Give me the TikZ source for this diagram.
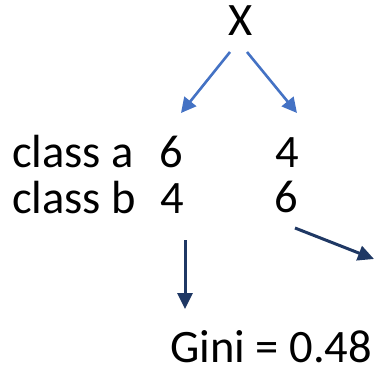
\documentclass[tikz,border=0pt]{standalone}
\usepackage{fontspec}
\setmainfont{Carlito}
\usetikzlibrary{arrows.meta}
\definecolor{blueA}{RGB}{68,114,196}
\definecolor{navyA}{RGB}{31,56,100}
\begin{document}
\begin{tikzpicture}[x=1pt,y=-1pt,
  txt/.style={inner sep=0pt, font=\fontsize{46.5}{56}\selectfont, anchor=base},
  bluearrow/.style={draw=blueA, line width=2.6pt, -{Triangle[length=15pt,width=15pt]}},
  navyarrow/.style={draw=navyA, line width=3pt, -{Triangle[length=16pt,width=15pt]}}]
\useasboundingbox (0,0) rectangle (377,367);
\node[txt] (X) at (241,35) {X};
\node[txt, anchor=base west] (ca) at (12,167) {class a};
\node[txt, anchor=base west] (cb) at (12,213) {class b};
\node[txt] (a1) at (171,167) {6};
\node[txt] (b1) at (172,213) {4};
\node[txt] (a2) at (287,167) {4};
\node[txt] (b2) at (286,212) {6};
\node[txt, anchor=base west, text depth=0pt] (g) at (170,362) {Gini = 0.48};
\coordinate (xl) at (230,52);
\coordinate (xlt) at (181,113);
\coordinate (xr) at (247,52);
\coordinate (xrt) at (297,113);
\coordinate (v1) at (185,240);
\coordinate (v1t) at (185,309);
\coordinate (d1) at (295,228);
\coordinate (d1t) at (374,259);
\draw[bluearrow] (xl) -- (xlt);
\draw[bluearrow] (xr) -- (xrt);
\draw[navyarrow] (v1) -- (v1t);
\draw[navyarrow] (d1) -- (d1t);
\end{tikzpicture}
\end{document}
